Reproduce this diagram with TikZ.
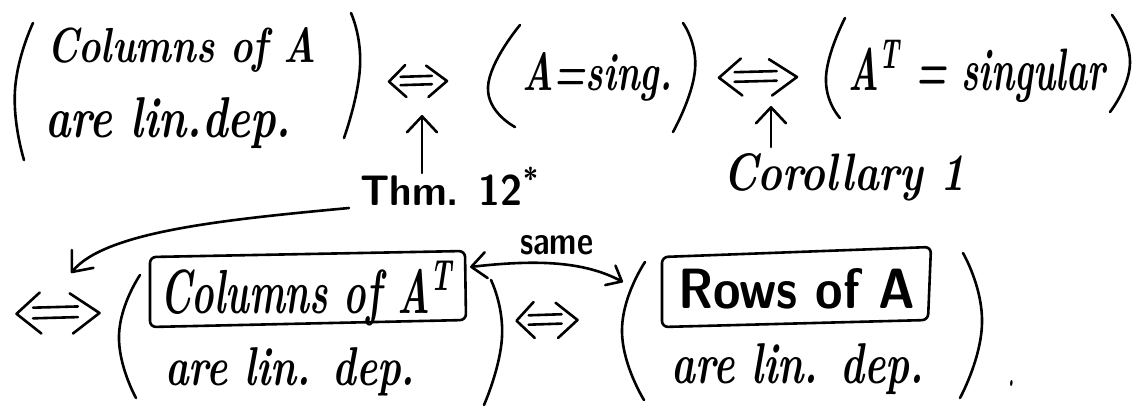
\documentclass[tikz,border=0pt]{standalone}
\usepackage{graphicx}
\usetikzlibrary{arrows.meta}

% text squeezed or stretched to a given width and height (in pt)
\newcommand{\fitbox}[3]{\resizebox{#1pt}{#2pt}{#3}}

\tikzset{
  pen/.style={line width=2.6pt, line cap=round, line join=round},
  txt/.style={inner sep=0pt, anchor=base west, font=\bfseries\itshape},
  print/.style={inner sep=0pt, anchor=base west, font=\sffamily\bfseries},
  paren/.style={pen},
  tagbox/.style={pen, rounded corners=6pt},
  uptip/.style={pen, -{Straight Barb[round, length=16pt, width=30pt, line width=2.6pt]}},
  bendtip/.style={pen, -{Straight Barb[round, length=17pt, width=28pt, line width=2.6pt]}},
  bothtip/.style={pen, {Straight Barb[round, length=15pt, width=26pt, line width=2.6pt]}-{Straight Barb[round, length=13pt, width=22pt, line width=2.6pt]}},
  % hand-drawn "if and only if" mark, one unit wide and one unit high
  iffmark/.pic={
    \draw[pen] (-0.22,-0.5) -- (-0.5,0.02) -- (-0.2,0.5);
    \draw[pen] (-0.3,-0.13) -- (0.24,-0.16);
    \draw[pen] (-0.3,0.13) -- (0.24,0.1);
    \draw[pen] (0.14,-0.48) -- (0.5,0) -- (0.18,0.5);
  },
}

\begin{document}
\begin{tikzpicture}[x=1pt, y=-1pt]
  \path[fill=white] (0,0) rectangle (1138,408);
  \useasboundingbox (0,0) rectangle (1138,408);

  % ---- top row ----
  \node[txt] (colA) at (47,62)  {\fitbox{269}{35}{Columns of A}};
  \node[txt] (linA) at (45,137) {\fitbox{246}{40}{are lin.dep.}};
  \draw[paren] plot[smooth, tension=0.9] coordinates {(33,23) (15,90) (24,160)};
  \draw[paren] plot[smooth, tension=0.9] coordinates {(351,13) (360,67) (344,138)};

  \pic[xscale=58, yscale=32] (iff1) at (418,81) {iffmark};

  \node[txt] (sing) at (522,90) {\fitbox{150}{38}{A=sing.}};
  \draw[paren] plot[smooth, tension=0.9] coordinates {(520,25) (488,87) (515,127)};
  \draw[paren] plot[smooth, tension=0.9] coordinates {(683,23) (695,70) (673,132)};

  \pic[xscale=78, yscale=37] (iff2) at (758,77) {iffmark};

  \node[txt] (ATs) at (848,90) {\fitbox{257}{50}{A\textsuperscript{T} = singular}};
  \draw[paren] plot[smooth, tension=0.9] coordinates {(845,18) (826,77) (840,118)};
  \draw[paren] plot[smooth, tension=0.9] coordinates {(1112,15) (1130,63) (1110,112)};

  % ---- notes under the equivalences ----
  \node[print] (thm) at (360,205) {\fitbox{180}{38}{Thm. 12\textsuperscript{*}}};
  \node[txt] (cor) at (723,190) {\fitbox{242}{37}{Corollary 1}};

  \coordinate (thmtop) at (422,173);
  \coordinate (iffonebot) at (422,115);
  \draw[uptip] (thmtop) -- (iffonebot);

  \coordinate (cortop) at (771,147);
  \coordinate (ifftwobot) at (771,106);
  \draw[uptip] (cortop) -- (ifftwobot);

  % ---- bottom row ----
  \pic[xscale=83, yscale=41] (iff3) at (58,313) {iffmark};

  \node[txt] (colAT) at (160,313) {\fitbox{293}{52}{Columns of A\textsuperscript{T}}};
  \node[txt] (linAT) at (165,385) {\fitbox{250}{38}{are lin. dep.}};
  \draw[tagbox] (150,257) -- (465,251) -- (466,320) -- (150,327) -- cycle;
  \draw[paren] plot[smooth, tension=0.9] coordinates {(140,275) (119,335) (136,398)};
  \draw[paren] plot[smooth, tension=0.9] coordinates {(491,280) (502,337) (484,405)};

  \pic[xscale=61, yscale=36] (iff4) at (547,320) {iffmark};

  \node[print] (rows) at (678,308) {\fitbox{237}{40}{Rows of A}};
  \node[txt] (linR) at (671,383) {\fitbox{253}{40}{are lin. dep.}};
  \draw[tagbox] (662,257) -- (931,247) -- (928,320) -- (662,327) -- cycle;
  \draw[paren] plot[smooth, tension=0.9] coordinates {(645,262) (622,330) (644,400)};
  \draw[paren] plot[smooth, tension=0.9] coordinates {(963,253) (982,323) (960,398)};
  \node[txt] (dot) at (1008,386) {\fitbox{6}{6}{.}};

  % Thm. 12* also gives the step down to the second row
  \coordinate (bendstart) at (349,208);
  \coordinate (bendend) at (71,273);
  \draw[bendtip] (bendstart) .. controls (220,220) and (105,232) .. (bendend);

  % the two boxed statements say the same thing
  \node[print] (same) at (520,254) {\fitbox{73}{19}{same}};
  \coordinate (sameL) at (470,267);
  \coordinate (sameR) at (623,282);
  \draw[bothtip] (sameL) .. controls (540,259) and (585,262) .. (sameR);
\end{tikzpicture}
\end{document}
